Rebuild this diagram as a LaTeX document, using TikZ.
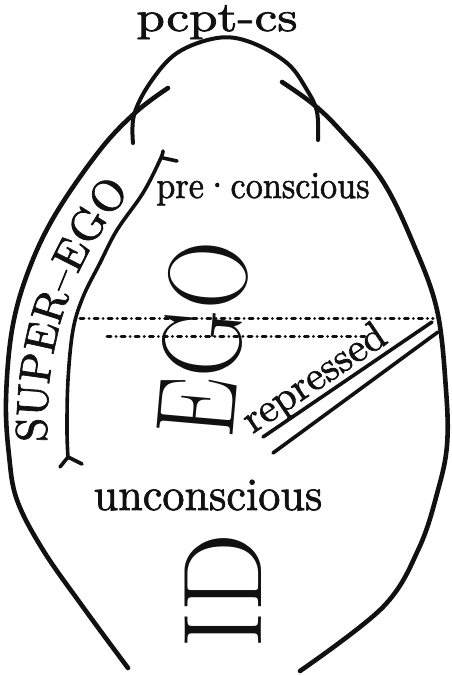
\documentclass[tikz,border=0pt]{standalone}
\usepackage{fontspec}
\usepackage{tikz}
\usetikzlibrary{decorations.text}
\newfontfamily\heavy{lmroman10-regular.otf}[FakeBold=1.6]
\definecolor{pInk}{HTML}{111111}

\begin{document}
\begin{tikzpicture}[x=1pt, y=-1pt, line cap=round, line join=round,
  outline/.style={draw=pInk, line width=4.6pt},
  pen/.style={draw=pInk, line width=4pt},
  dots/.style={draw=pInk, line width=3pt, dash pattern=on 4pt off 5pt on 0.1pt off 5pt},
  word/.style={text=pInk, inner sep=0pt},
  big/.style={word, font=\normalfont\fontsize{112}{112}\selectfont}]
  \useasboundingbox (0,0) rectangle (451,676);

  % egg
  \draw[outline] plot[smooth, tension=0.6] coordinates {(168,88) (136,112) (100,150) (55,215) (28,272) (12,330) (6,400) (9,455) (17,500) (43,550) (83,607) (128,668)};
  \draw[outline] plot[smooth, tension=0.6] coordinates {(282,82) (313,104) (340,130) (382,180) (413,243) (437,310) (446,390) (447,445) (438,490) (419,548) (383,607) (300,671)};
  % pcpt-cs cap
  \draw[pen] plot[smooth, tension=0.6] coordinates {(133,143) (134,115) (150,83) (177,53) (217,38) (250,42) (287,63) (307,90) (317,112) (318,140)};

  % super-ego bracket
  \draw[pen, line width=3.6pt] plot[smooth, tension=0.6] coordinates {(163,151) (160,160) (143,193) (117,230) (100,263) (83,297) (73,330) (68,380) (67,430) (68,458)};
  \draw[pen, line width=3.6pt] (163,158) -- (177,161);
  \draw[pen, line width=3.6pt] (60,467) -- (68,457) -- (82,464);
  \path[decorate, decoration={text along path, text align=center,
    text={|\heavy\fontsize{44}{44}\selectfont\color{pInk}|SUPER–EGO}}]
    (47,460) .. controls (43,350) and (66,262) .. (142,178);

  % levels
  \draw[dots] (80,318) -- (433,318);
  \draw[dots] (107,336) -- (367,336);
  \draw[pen, line width=3.6pt] (263,437) -- (432,322);
  \draw[pen, line width=3.6pt] (273,453) -- (438,332);

  \node[word, font=\heavy\fontsize{42}{42}\selectfont, xscale=1.22, anchor=base] (pcpt) at (217,31) {pcpt-cs};
  \node[word, font=\heavy\fontsize{38}{38}\selectfont, xscale=0.9, anchor=base] (precs) at (263,198) {pre\textperiodcentered conscious};
  \node[word, font=\heavy\fontsize{46}{46}\selectfont, xscale=0.96, anchor=base] (uncs) at (208,510) {unconscious};
  \node[word, font=\heavy\fontsize{41}{41}\selectfont, rotate=34, anchor=base] (repr) at (321,388) {repressed};
  \node[big, rotate=85, xscale=0.84] (ego) at (203,339) {EGO};
  \node[big, rotate=90, xscale=1.0] (id) at (223,591) {ID};
\end{tikzpicture}
\end{document}
